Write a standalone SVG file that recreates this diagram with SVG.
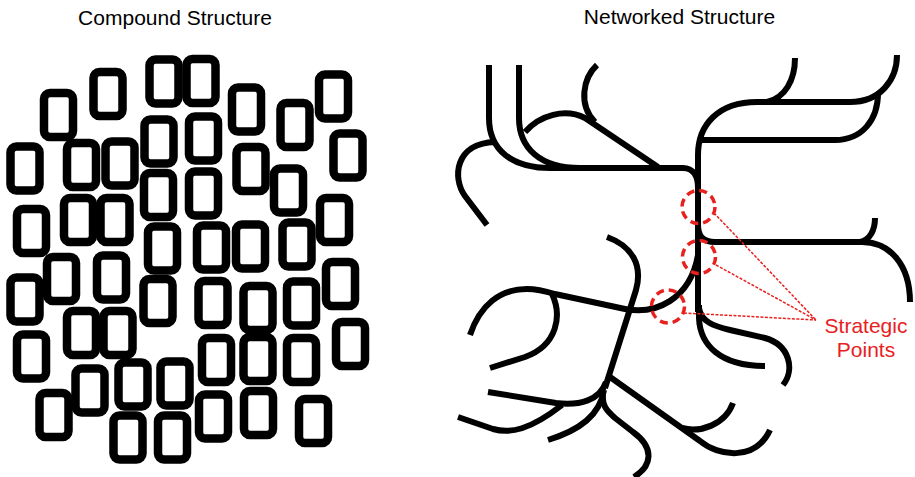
<svg xmlns="http://www.w3.org/2000/svg" width="915" height="477" viewBox="0 0 915 477">
  <style>
    .title { font-family: "Liberation Sans", Arial, sans-serif; font-size: 21px; fill: #000; text-anchor: middle; }
    .cell { fill: none; stroke: #000; stroke-width: 8.5; }
    .net path { fill: none; stroke: #000; stroke-width: 6; stroke-linecap: butt; stroke-linejoin: round; }
    .spot { fill: none; stroke: #e8201e; stroke-width: 3.5; stroke-dasharray: 8 5; }
    .lead { fill: none; stroke: #e8201e; stroke-width: 1.5; stroke-dasharray: 3 1.5; }
    .label { font-family: "Liberation Sans", Arial, sans-serif; font-size: 21px; fill: #e8201e; text-anchor: middle; }
  </style>
  <defs>
    <rect id="cell" class="cell" x="-14.5" y="-22" width="29" height="44" rx="6"/>
  </defs>
  <rect width="915" height="477" fill="#fff"/>

  <text class="title" x="175" y="25">Compound Structure</text>
  <text class="title" x="679.5" y="24">Networked Structure</text>

  <!-- compound structure: loose rounded cells -->
  <g id="compound">
    <use href="#cell" x="58.5" y="115"/>
    <use href="#cell" x="108" y="94"/>
    <use href="#cell" x="164" y="81.5"/>
    <use href="#cell" x="201" y="81"/>
    <use href="#cell" x="246.5" y="109.5"/>
    <use href="#cell" x="295" y="125"/>
    <use href="#cell" x="333.5" y="96.5"/>
    <use href="#cell" x="25" y="168.5"/>
    <use href="#cell" x="81.5" y="165"/>
    <use href="#cell" x="120" y="163.5"/>
    <use href="#cell" x="159" y="141.5"/>
    <use href="#cell" x="203.5" y="138.5"/>
    <use href="#cell" x="348" y="155.5"/>
    <use href="#cell" x="251" y="169"/>
    <use href="#cell" x="158.5" y="195"/>
    <use href="#cell" x="203.5" y="193.5"/>
    <use href="#cell" x="288.5" y="190.5"/>
    <use href="#cell" x="31.5" y="231"/>
    <use href="#cell" x="78.5" y="220"/>
    <use href="#cell" x="115" y="220"/>
    <use href="#cell" x="162.5" y="248.5"/>
    <use href="#cell" x="211.5" y="247.5"/>
    <use href="#cell" x="250.5" y="246.5"/>
    <use href="#cell" x="297" y="244.5"/>
    <use href="#cell" x="334.5" y="220"/>
    <use href="#cell" x="61.5" y="279"/>
    <use href="#cell" x="111.5" y="277.5"/>
    <use href="#cell" x="25" y="299.5"/>
    <use href="#cell" x="158" y="301"/>
    <use href="#cell" x="340.5" y="284"/>
    <use href="#cell" x="213" y="303"/>
    <use href="#cell" x="258" y="308"/>
    <use href="#cell" x="301.5" y="303.5"/>
    <use href="#cell" x="81.5" y="333"/>
    <use href="#cell" x="118" y="333"/>
    <use href="#cell" x="31.5" y="356.5"/>
    <use href="#cell" x="350.5" y="344"/>
    <use href="#cell" x="216.5" y="360"/>
    <use href="#cell" x="258" y="359"/>
    <use href="#cell" x="301.5" y="360"/>
    <use href="#cell" x="90" y="390.5"/>
    <use href="#cell" x="133" y="384.5"/>
    <use href="#cell" x="175" y="383.5"/>
    <use href="#cell" x="54" y="415"/>
    <use href="#cell" x="128" y="437.5"/>
    <use href="#cell" x="172.5" y="437.5"/>
    <use href="#cell" x="213.5" y="416.5"/>
    <use href="#cell" x="258.5" y="413"/>
    <use href="#cell" x="313.5" y="421"/>
  </g>

  <!-- networked structure: branching lines around a vertical trunk -->
  <g id="network" class="net">
    <!-- upper left feeders into the top rail -->
    <path d="M489,65 V118 C489,150 512,168 550,168 H683 C693,168 698,176 698,188"/>
    <path d="M519,65 V118 C519,148 540,168 580,168"/>
    <path d="M487,225 L465,196 C452,178 455,143 495,142"/>
    <path d="M525,132 C540,115 565,108 585,118 L658,167"/>
    <path d="M597,65 C583,78 578,105 595,122"/>
    <!-- trunk and upper right branches -->
    <path d="M757,102 C718,102 698,125 698,155 V312"/>
    <path d="M757,102 H850 C880,102 897,80 897,55"/>
    <path d="M767,102 C785,98 795,80 795,58"/>
    <path d="M700,140 H835 C862,140 878,120 878,93"/>
    <!-- right branch -->
    <path d="M698,225 C698,236 703,242 715,242 H862 C890,242 910,265 910,302"/>
    <path d="M860,242 C870,240 875,230 875,218"/>
    <!-- trunk foot -->
    <path d="M699,308 C701,322 714,326 730,330 L765,338 C790,345 795,370 783,385"/>
    <path d="M699,305 V318 C700,345 720,366 765,366"/>
    <!-- lower left curve into the trunk -->
    <path d="M470,335 C480,305 500,289 527,289 C535,289 545,291 555,294 L625,309 C655,315 690,300 698,255"/>
    <path d="M552,294 C562,315 558,345 525,357 L490,368"/>
    <!-- lower cluster -->
    <path d="M607,237 C632,246 643,265 636,290 L605,388"/>
    <path d="M606,382 C600,400 580,406 556,403 L488,392"/>
    <path d="M458,417 L493,429 C510,434 530,430 562,405"/>
    <path d="M604,390 C600,415 580,430 548,440"/>
    <path d="M603,395 C602,405 606,410 615,418 L633,432 C655,448 652,466 634,477"/>
    <path d="M610,377 L700,441 C718,456 755,462 770,430"/>
    <path d="M682,428 C700,433 725,425 733,403"/>
  </g>

  <!-- strategic points and their leaders -->
  <g id="strategic">
    <circle class="spot" cx="698.5" cy="207" r="16.5"/>
    <circle class="spot" cx="699" cy="257" r="16.5"/>
    <circle class="spot" cx="668" cy="306.5" r="16.5"/>
    <path class="lead" d="M714,213 L816,320"/>
    <path class="lead" d="M716,265 L816,320"/>
    <path class="lead" d="M684,313 L816,320"/>
    <text class="label" x="866" y="333">Strategic</text>
    <text class="label" x="866" y="357">Points</text>
  </g>
</svg>
